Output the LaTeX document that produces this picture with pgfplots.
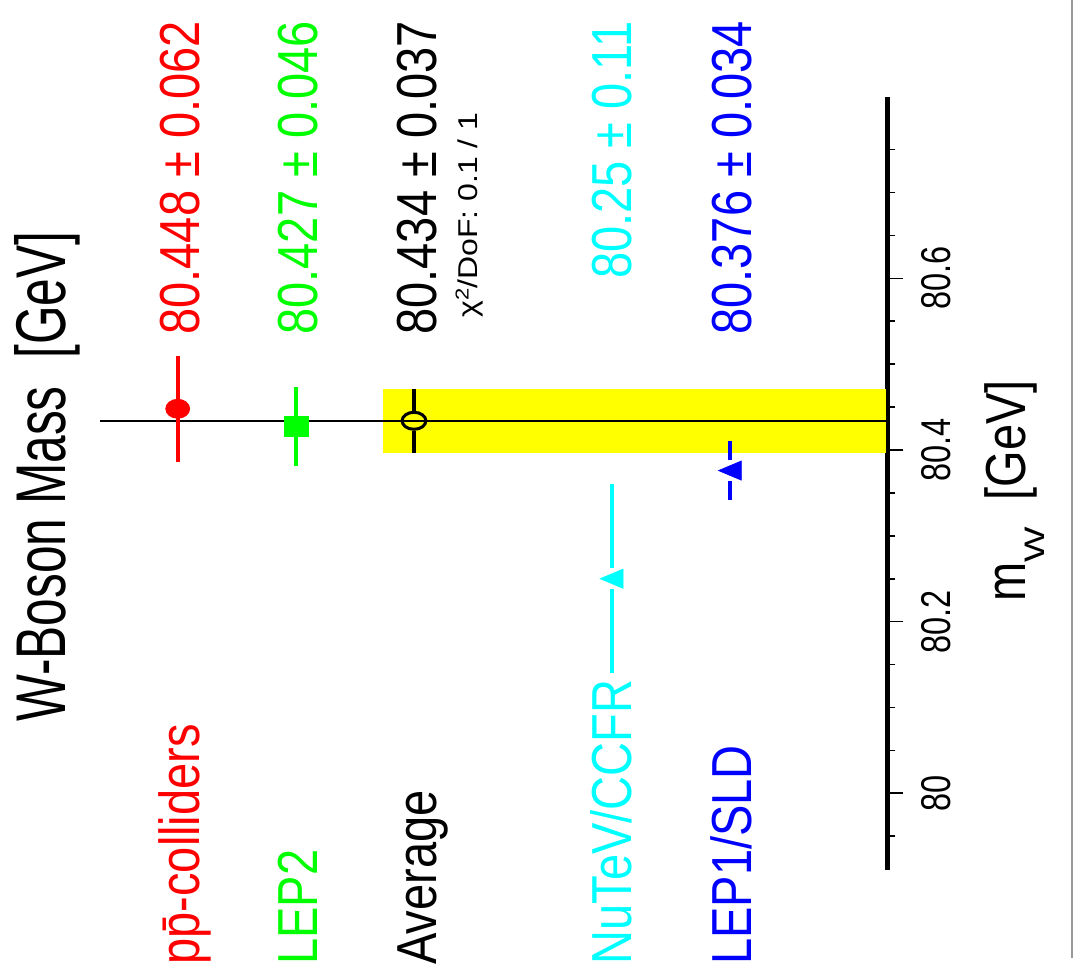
\documentclass[border=0pt]{standalone}
\usepackage{pgfplots}
\pgfplotsset{compat=1.18}
\usepackage{fontspec}
\setmainfont{Liberation Sans}
\usepackage{graphicx}

\definecolor{rred}{rgb}{1,0,0}
\definecolor{rgreen}{rgb}{0,1,0}
\definecolor{rblue}{rgb}{0,0,1}
\definecolor{rcyan}{rgb}{0,1,1}
\definecolor{ryellow}{rgb}{1,1,0}

\pgfdeclareplotmark{ltri}{%
  \pgfpathmoveto{\pgfqpoint{-1.19\pgfplotmarksize}{0pt}}%
  \pgfpathlineto{\pgfqpoint{1.19\pgfplotmarksize}{\pgfplotmarksize}}%
  \pgfpathlineto{\pgfqpoint{1.19\pgfplotmarksize}{-\pgfplotmarksize}}%
  \pgfpathclose\pgfusepathqfillstroke}

\newcommand{\lab}[1]{\fontsize{23.5}{28}\selectfont\scalebox{1}[1.2]{#1}}
\newcommand{\tlab}[1]{\fontsize{24.8}{28}\selectfont\scalebox{1}[1.42]{#1}}
\newcommand{\tkl}[1]{\fontsize{16.25}{18}\selectfont\scalebox{1}[1.28]{#1}}

\begin{document}
\begin{tikzpicture}
\useasboundingbox (0,0) rectangle (536.5pt,487.5pt);
\begin{axis}[
  at={(0pt,52.5pt)}, anchor=south west,
  scale only axis, width=443.65pt, height=386.65pt,
  xmin=0, xmax=887.3, ymin=79.91064, ymax=80.8116,
  axis x line=none, axis y line*=right,
  axis line style={-, line width=2.2pt},
  ytick={80,80.2,80.4,80.6},
  yticklabels={\tkl{80},\tkl{80.2},\tkl{80.4},\tkl{80.6}},
  minor ytick={79.95,80.05,80.1,80.15,80.25,80.3,80.35,80.45,80.5,80.55,80.65,80.7,80.75},
  tick align=outside, major tick length=8pt, minor tick length=4pt,
  tick style={black, line width=0.8pt},
  yticklabel style={xshift=23.5pt, rotate=90, anchor=base, inner sep=0pt},
  clip=false,
]
% average band
\addplot[fill=ryellow, draw=none] coordinates {(383.3,80.397) (886,80.397) (886,80.471) (383.3,80.471)} -- cycle;
% average line
\addplot[black, line width=1.2pt] coordinates {(100,80.434) (887.3,80.434)};
% error bars
\addplot[rred, line width=2pt] coordinates {(177.7,80.386) (177.7,80.510)};
\addplot[rgreen, line width=2pt] coordinates {(296,80.381) (296,80.473)};
\addplot[black, line width=2pt] coordinates {(414,80.397) (414,80.4223)};
\addplot[black, line width=2pt] coordinates {(414,80.4457) (414,80.471)};
\addplot[rcyan, line width=2pt] coordinates {(611.7,80.14) (611.7,80.2378)};
\addplot[rcyan, line width=2pt] coordinates {(611.7,80.2622) (611.7,80.36)};
\addplot[rblue, line width=2pt] coordinates {(730,80.342) (730,80.364)};
\addplot[rblue, line width=2pt] coordinates {(730,80.388) (730,80.410)};
% markers
\addplot[rred, only marks, mark=*, mark size=4.75pt, mark options={xscale=1.26}] coordinates {(177.7,80.448)};
\addplot[rgreen, only marks, mark=square*, mark size=5pt, mark options={xscale=1.2}] coordinates {(296,80.427)};
\addplot[black, only marks, mark=o, mark size=4.25pt, mark options={xscale=1.4, line width=1.5pt}] coordinates {(414,80.434)};
\addplot[rcyan, only marks, mark=ltri, mark size=4.75pt] coordinates {(611.7,80.25)};
\addplot[rblue, only marks, mark=ltri, mark size=4.75pt] coordinates {(730,80.376)};

% labels
\node[rotate=90, anchor=base west, inner sep=0pt, text=rred]   at (axis cs:200,79.8)   {\lab{p\={p}-colliders}};
\node[rotate=90, anchor=base west, inner sep=0pt, text=rgreen] at (axis cs:317.5,79.8) {\lab{LEP2}};
\node[rotate=90, anchor=base west, inner sep=0pt, text=black]  at (axis cs:436,79.8)   {\lab{Average}};
\node[rotate=90, anchor=base west, inner sep=0pt, text=rcyan]  at (axis cs:631.7,79.8) {\lab{NuTeV/CCFR}};
\node[rotate=90, anchor=base west, inner sep=0pt, text=rblue]  at (axis cs:751.7,79.8) {\lab{LEP1/SLD}};

\node[rotate=90, anchor=base east, inner sep=0pt, text=rred]   at (axis cs:200,80.9)   {\lab{80.448 ± 0.062}};
\node[rotate=90, anchor=base east, inner sep=0pt, text=rgreen] at (axis cs:317.5,80.9) {\lab{80.427 ± 0.046}};
\node[rotate=90, anchor=base east, inner sep=0pt, text=black]  at (axis cs:436,80.9)   {\lab{80.434 ± 0.037}};
\node[rotate=90, anchor=base east, inner sep=0pt, text=rcyan]  at (axis cs:631.7,80.9) {\lab{80.25 ± 0.11}};
\node[rotate=90, anchor=base east, inner sep=0pt, text=rblue]  at (axis cs:751.7,80.9) {\lab{80.376 ± 0.034}};

\node[rotate=90, anchor=base west, inner sep=0pt] at (axis cs:477,80.5538)
  {\fontsize{16}{18}\selectfont\scalebox{1}[0.85]{χ\raisebox{5pt}{\fontsize{11}{12}\selectfont 2}/DoF: 0.1 / 1}};

% title
\node[rotate=90, anchor=base west, inner sep=0pt] at (axis cs:65,80.083) {\tlab{W-Boson Mass\ \ [GeV]}};
% axis label
\node[rotate=90, anchor=base east, inner sep=0pt] at (axis cs:1025,80.4815)
  {\lab{m\raisebox{-8.3pt}{\scalebox{0.8}[0.5]{W}}\ \ [GeV]}};
\end{axis}
\draw[gray!80, line width=1pt] (535.85pt,487.5pt) -- (535.85pt,8.5pt);
\end{tikzpicture}
\end{document}
